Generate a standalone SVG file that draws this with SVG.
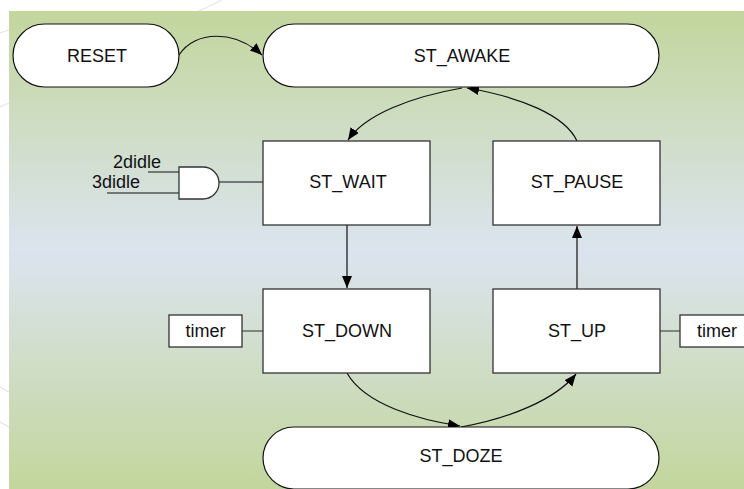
<svg xmlns="http://www.w3.org/2000/svg" width="744" height="489" viewBox="0 0 744 489">
<style>
text{font-family:"Liberation Sans",Arial,sans-serif;font-size:18px;fill:#111}
.c{text-anchor:middle}
.pill{fill:#fff;stroke:#111;stroke-width:1.2}
.box{fill:#fff;stroke:#333;stroke-width:1.3}
.edge{fill:none;stroke:#111;stroke-width:1.2}
.wire{fill:none;stroke:#555;stroke-width:1.3}
.in{fill:none;stroke:#111;stroke-width:1.2}
.deco{fill:none;stroke:#e6e6e6;stroke-width:1.2}
</style>
<defs>
<linearGradient id="bg" x1="0" y1="0" x2="0" y2="1">
<stop offset="0" stop-color="#c3d69c"/>
<stop offset="0.5" stop-color="#dbe4ef"/>
<stop offset="1" stop-color="#c3d69c"/>
</linearGradient>
<marker id="arr" markerUnits="userSpaceOnUse" markerWidth="14" markerHeight="12" refX="12" refY="5" orient="auto">
<path d="M0,0 L12,5 L0,10 Z" fill="#000"/>
</marker>
</defs>
<rect x="0" y="0" width="744" height="489" fill="#fff"/>
<path class="deco" d="M197,12 L222,0 M0,33 L9,30 M0,107 L9,103 M0,387 L9,392 M0,422 L9,427"/>
<rect x="9" y="11" width="735" height="478" fill="url(#bg)"/>
<g id="connectors">
<path class="edge" d="M179,55 C195,30 235,30 262,55" marker-end="url(#arr)"/>
<path class="edge" d="M577,141 C565,115 520,97 467,88" marker-end="url(#arr)"/>
<path class="edge" d="M462,88 C410,97 365,115 348,140" marker-end="url(#arr)"/>
<path class="edge" d="M347,225 L347,288" marker-end="url(#arr)"/>
<path class="edge" d="M577,289 L577,226" marker-end="url(#arr)"/>
<path class="edge" d="M347,373 C365,405 420,420 460,426" marker-end="url(#arr)"/>
<path class="edge" d="M461,427 C510,418 555,400 576,374" marker-end="url(#arr)"/>
<path class="wire" d="M219,182 L263,182"/>
<path class="wire" d="M242,331 L263,331"/>
<path class="wire" d="M660,331 L680,331"/>
<path class="in" d="M148,172 L179,172 M107,193 L179,193"/>
</g>
<g id="reset">
<rect class="pill" x="13" y="24" width="166" height="63" rx="31.5"/>
<text class="c" x="97" y="62">RESET</text>
</g>
<g id="st_awake">
<rect class="pill" x="263" y="24" width="396" height="63" rx="31.5"/>
<text class="c" x="462" y="62">ST_AWAKE</text>
</g>
<g id="st_wait">
<rect class="box" x="263" y="141" width="167" height="84"/>
<text class="c" x="348" y="188">ST_WAIT</text>
</g>
<g id="st_pause">
<rect class="box" x="493" y="141" width="167" height="84"/>
<text class="c" x="577" y="188">ST_PAUSE</text>
</g>
<g id="st_down">
<rect class="box" x="263" y="289" width="167" height="84"/>
<text class="c" x="347" y="337">ST_DOWN</text>
</g>
<g id="st_up">
<rect class="box" x="493" y="289" width="167" height="84"/>
<text class="c" x="577" y="337">ST_UP</text>
</g>
<g id="st_doze">
<rect class="pill" x="263" y="427" width="396" height="62" rx="31"/>
<text class="c" x="461" y="462">ST_DOZE</text>
</g>
<g id="timer_left">
<rect class="box" x="169" y="315" width="73" height="32"/>
<text class="c" x="205.5" y="337">timer</text>
</g>
<g id="timer_right">
<rect class="box" x="680" y="315" width="73" height="32"/>
<text x="697" y="337">timer</text>
</g>
<g id="and_gate">
<path class="box" d="M179,167 L203,167 A16,16 0 0 1 203,199 L179,199 Z"/>
<text x="113" y="168">2didle</text>
<text x="92" y="188">3didle</text>
</g>
</svg>
